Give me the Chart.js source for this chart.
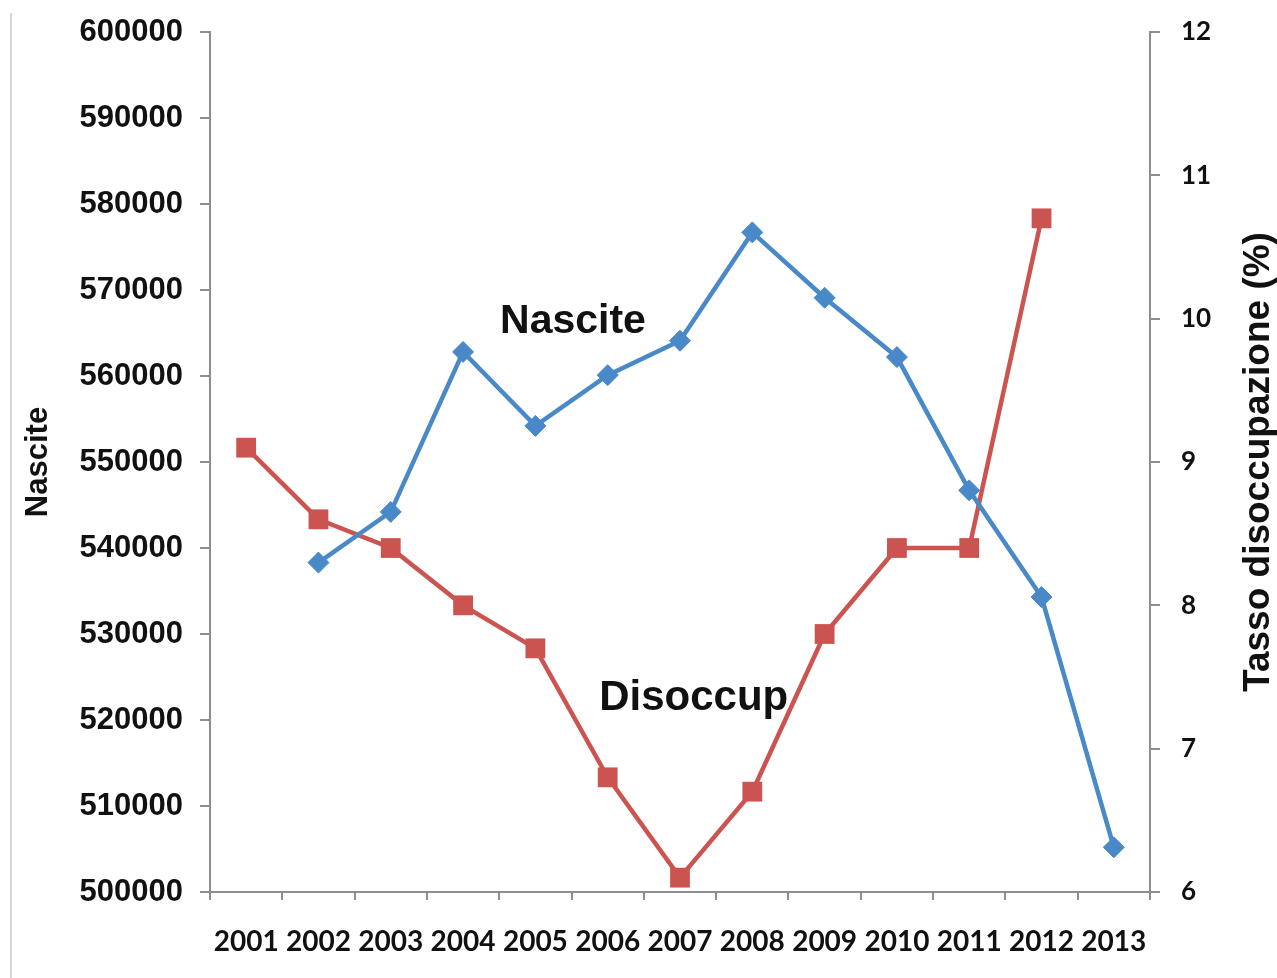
<!DOCTYPE html>
<html>
<head>
<meta charset="utf-8">
<script src="https://cdn.jsdelivr.net/npm/chart.js@4.4.1/dist/chart.umd.min.js"></script>
<style>
html,body{margin:0;padding:0;background:#fff;}
#wrap{position:relative;width:1277px;height:978px;overflow:hidden;}
#edge{position:absolute;left:10px;top:13px;width:2px;height:965px;background:#d6d6d6;}
canvas{position:absolute;left:0;top:0;}
</style>
</head>
<body>
<div id="wrap"><canvas id="c" width="1277" height="978"></canvas><div id="edge"></div></div>
<script>
// ---- data ----
const years = ['2001','2002','2003','2004','2005','2006','2007','2008','2009','2010','2011','2012','2013'];
const nascite = [null, 538300, 544200, 562800, 554200, 560100, 564100, 576700, 569100, 562200, 546700, 534300, 505200];
const disoccup = [9.1, 8.6, 8.4, 8.0, 7.7, 6.8, 6.1, 6.7, 7.8, 8.4, 8.4, 10.7, null];
const leftTicksRange = [500000, 600000, 10000];
const rightTicksRange = [6, 12, 1];
const leftTitle = 'Nascite';
const rightTitle = 'Tasso disoccupazione (%)';
const labelNascite = 'Nascite';
const labelDisoccup = 'Disoccup';

// ---- style ----
const BLUE = '#4a89c8';
const RED = '#cc5450';
const AXIS = '#8e8e8e';
const TXT = '#111111';
const ARIAL = '"Liberation Sans", Arial, sans-serif';
const LATO = 'Lato, "Open Sans", sans-serif';

// annotation anchors (category index, axis value)
const annotNascite = {x: 4.52, y: 565000, axis: 'y'};
const annotDisoccup = {x: 6.19, y: 7.27, axis: 'y2'};

const textPlugin = {
  id: 'texts',
  afterDatasetsDraw(chart) {
    const {ctx, scales} = chart;
    const xs = scales.x;
    ctx.save();
    ctx.fillStyle = TXT;
    ctx.textAlign = 'center';
    ctx.textBaseline = 'alphabetic';
    ctx.font = 'bold 41px ' + ARIAL;
    ctx.fillText(labelNascite, xs.getPixelForValue(annotNascite.x), scales[annotNascite.axis].getPixelForValue(annotNascite.y));
    ctx.font = 'bold 42px ' + ARIAL;
    ctx.fillText(labelDisoccup, xs.getPixelForValue(annotDisoccup.x), scales[annotDisoccup.axis].getPixelForValue(annotDisoccup.y));
    // right axis title, reading bottom-to-top
    const ca = chart.chartArea;
    ctx.font = 'bold 37px ' + ARIAL;
    ctx.translate(scales.y2.right - 8, (ca.top + ca.bottom) / 2);
    ctx.rotate(-Math.PI / 2);
    ctx.fillText(rightTitle, 0, 0);
    ctx.restore();
  }
};

new Chart(document.getElementById('c'), {
  type: 'line',
  data: {
    labels: years,
    datasets: [
      {
        label: 'Nascite',
        data: nascite,
        yAxisID: 'y',
        borderColor: BLUE,
        backgroundColor: BLUE,
        borderWidth: 4.5,
        pointStyle: 'rectRot',
        pointRadius: 10.5,
        pointBorderWidth: 1,
        pointBackgroundColor: BLUE,
        pointBorderColor: BLUE,
        tension: 0
      },
      {
        label: 'Disoccup',
        data: disoccup,
        yAxisID: 'y2',
        borderColor: RED,
        backgroundColor: RED,
        borderWidth: 4.5,
        pointStyle: 'rect',
        pointRadius: 14,
        pointBorderWidth: 0,
        pointBackgroundColor: RED,
        pointBorderColor: RED,
        tension: 0
      }
    ]
  },
  options: {
    responsive: false,
    animation: false,
    devicePixelRatio: 1,
    layout: {padding: {top: 32, bottom: 0, left: 0, right: 0}},
    plugins: {legend: {display: false}, tooltip: {enabled: false}},
    scales: {
      x: {
        type: 'category',
        offset: true,
        grid: {display: true, drawOnChartArea: false, offset: true, tickLength: 8, color: AXIS, lineWidth: 2},
        border: {display: true, color: AXIS, width: 2},
        ticks: {color: TXT, font: {family: LATO, size: 28, weight: 'bold'}, padding: 25, maxRotation: 0, autoSkip: false},
        afterFit(s) { s.height = 86; s.paddingLeft = 0; s.paddingRight = 0; }
      },
      y: {
        position: 'left',
        min: leftTicksRange[0], max: leftTicksRange[1],
        grid: {display: true, drawOnChartArea: false, tickLength: 10, color: AXIS, lineWidth: 2},
        border: {display: true, color: AXIS, width: 2},
        ticks: {stepSize: leftTicksRange[2], color: TXT, font: {family: ARIAL, size: 31, weight: 'bold'}, padding: 17, callback: v => String(v)},
        title: {display: true, text: leftTitle, color: TXT, font: {family: ARIAL, size: 31, weight: 'bold'}, padding: {top: 20, bottom: 0}},
        afterFit(s) { s.width = 210; s.paddingTop = 0; s.paddingBottom = 0; }
      },
      y2: {
        position: 'right',
        min: rightTicksRange[0], max: rightTicksRange[1],
        grid: {display: true, drawOnChartArea: false, tickLength: 10, color: AXIS, lineWidth: 2},
        border: {display: true, color: AXIS, width: 2},
        ticks: {stepSize: rightTicksRange[2], color: TXT, font: {family: LATO, size: 26, weight: 'bold'}, padding: 21},
        afterFit(s) { s.width = 127; s.paddingTop = 0; s.paddingBottom = 0; }
      }
    }
  },
  plugins: [textPlugin]
});
</script>
</body>
</html>
